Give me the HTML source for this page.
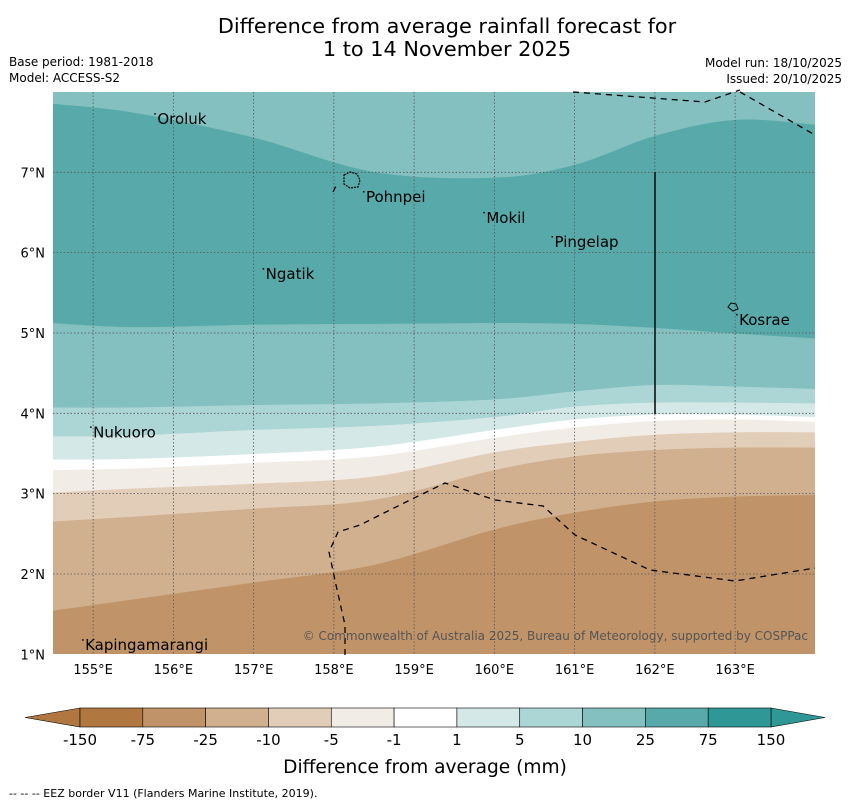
<!DOCTYPE html>
<html><head><meta charset="utf-8"><style>
body{margin:0;background:#fff;font-family:"Liberation Sans","DejaVu Sans",sans-serif;}
svg{display:block}
</style></head><body>
<svg id="chart" width="850" height="804" xmlns="http://www.w3.org/2000/svg" font-family="'DejaVu Sans','Liberation Sans',sans-serif">
<text x="447" y="33" text-anchor="middle" font-size="20.8">Difference from average rainfall forecast for</text>
<text x="447" y="56" text-anchor="middle" font-size="20.8">1 to 14 November 2025</text>
<text x="9" y="66" font-size="12">Base period: 1981-2018</text>
<text x="9" y="82" font-size="12">Model: ACCESS-S2</text>
<text x="842" y="67" font-size="12" text-anchor="end">Model run: 18/10/2025</text>
<text x="842" y="83" font-size="12" text-anchor="end">Issued: 20/10/2025</text>
<defs><clipPath id="mapclip"><rect x="53" y="92" width="762" height="562"/></clipPath></defs>
<g id="map" clip-path="url(#mapclip)"></g>
<g id="over"></g>
<g id="cbar"></g>
<text x="425" y="773" text-anchor="middle" font-size="18.6">Difference from average (mm)</text>
<text x="9" y="797" font-size="11">--  --  -- EEZ border V11 (Flanders Marine Institute, 2019).</text>
</svg>
<script>
const lons=[154.5,155.5,157,158.5,160,161,162,163,164];
const c25hi=[7.85,7.74,7.43,7.00,6.93,7.09,7.45,7.65,7.59];
const c25lo=[5.12,5.07,5.10,5.11,5.12,5.11,5.06,4.99,4.93];
const c10=[4.07,4.07,4.10,4.12,4.17,4.27,4.35,4.33,4.30];
const c5=[3.71,3.72,3.79,3.84,3.95,4.08,4.13,4.13,4.12];
const c1=[3.42,3.43,3.49,3.58,3.79,3.92,3.98,3.98,3.95];
const cm1=[3.29,3.31,3.38,3.46,3.69,3.82,3.90,3.92,3.89];
const cm5=[3.01,3.06,3.12,3.21,3.51,3.64,3.73,3.76,3.76];
const cm10=[2.65,2.71,2.81,2.92,3.29,3.46,3.54,3.57,3.57];
const cm25=[1.54,1.68,1.89,2.11,2.55,2.76,2.90,2.96,2.98];
const levels=["-150","-75","-25","-10","-5","-1","1","5","10","25","75","150"];
const binColors=["#b07840","#c09468","#d1b090","#e2cdb8","#f2ece6","#ffffff","#d5e8e8","#acd5d5","#83c0bf","#58aaaa","#2f9896"];
const xTicks=[155,156,157,158,159,160,161,162,163];
const yTicks=[1,2,3,4,5,6,7];
const places=[["Oroluk",155.75,7.75],["Pohnpei",158.35,6.78],["Mokil",159.85,6.52],["Pingelap",160.7,6.22],["Ngatik",157.1,5.82],["Kosrae",163.0,5.25],["Nukuoro",154.95,3.85],["Kapingamarangi",154.85,1.2]];
const NS="http://www.w3.org/2000/svg";
const X=lon=>53+(lon-154.5)*80.25;
const Y=lat=>92+(8-lat)*80.33;
function mk(tag,attrs,parent){const e=document.createElementNS(NS,tag);for(const k in attrs)e.setAttribute(k,attrs[k]);parent.appendChild(e);return e;}
const map=document.getElementById('map');
const over=document.getElementById('over');
let r=mk('rect',{x:53,y:92,width:762,height:562,fill:binColors[8]},map);


function smoothPath(arr){
  const pts=lons.map((lo,i)=>[X(lo),Y(arr[i])]);
  let d='M'+pts[0][0]+','+pts[0][1];
  for(let i=0;i<pts.length-1;i++){
    const p0=pts[Math.max(0,i-1)],p1=pts[i],p2=pts[i+1],p3=pts[Math.min(pts.length-1,i+2)];
    const c1x=p1[0]+(p2[0]-p0[0])/6,c1y=p1[1]+(p2[1]-p0[1])/6;
    const c2x=p2[0]-(p3[0]-p1[0])/6,c2y=p2[1]-(p3[1]-p1[1])/6;
    d+=` C${c1x},${c1y} ${c2x},${c2y} ${p2[0]},${p2[1]}`;
  }
  return d;
}
const layers=[[c25hi,9,'band-25-75'],[c25lo,8,'band-10-25'],[c10,7,'band-5-10'],[c5,6,'band-1-5'],[c1,5,'band-neutral'],[cm1,4,'band-minus1-5'],[cm5,3,'band-minus5-10'],[cm10,2,'band-minus10-25'],[cm25,1,'band-minus25-75']];
layers.forEach(([arr,ci,nm])=>{
  let d=smoothPath(arr);
  d+=' L'+X(lons[lons.length-1])+',660 L'+X(lons[0])+',660 Z';
  const p=mk('path',{d:d,fill:binColors[ci],stroke:binColors[ci],'stroke-width':0.5},map);
  
  
});
xTicks.forEach(t=>{
  const l=mk('line',{x1:X(t),x2:X(t),y1:92,y2:654,stroke:'#555','stroke-width':0.8,'stroke-dasharray':'1.5,2'},over);
  
  
  const tx=mk('text',{x:X(t),y:674,'text-anchor':'middle','font-size':13},over);tx.textContent=t+'°E';
  
  
});
yTicks.forEach(t=>{
  if(t>1){const l=mk('line',{x1:53,x2:815,y1:Y(t),y2:Y(t),stroke:'#555','stroke-width':0.8,'stroke-dasharray':'1.5,2'},over);
  
  }
  const tx=mk('text',{x:45,y:Y(t)+5,'text-anchor':'end','font-size':13},over);tx.textContent=t+'°N';
  
  
});
const eez=[["M573,92 L705,102 L740,90 M740,92 L815,135",'eez-border-north'],["M345,655 L345,625 L336,585 L329,552 L338,532 L360,525 L410,500 L445,483 L495,500 L543,506 L575,535 L650,570 L735,581 L815,568",'eez-border-south'],["M333,192 L336,186",'eez-border-fragment']];
eez.forEach(([d,nm])=>{const p=mk('path',{d:d,fill:'none',stroke:'#000','stroke-width':1.3,'stroke-dasharray':'6,5'},over);

});
let vl=mk('line',{x1:655,x2:655,y1:172,y2:414,stroke:'#111','stroke-width':1.6},over);


let pi=mk('path',{d:'M344,175 L350,172 L357,174 L360,180 L358,187 L350,188 L344,184 Z',fill:'none',stroke:'#000','stroke-width':1.2,'stroke-dasharray':'2,1'},over);


let ki=mk('path',{d:'M728,307 L731,303 L736,304 L738,309 L733,311 Z',fill:'none',stroke:'#000','stroke-width':1},over);


places.forEach(([n,lo,la])=>{
  const t=mk('text',{x:X(lo)+4,y:Y(la)+12,'font-size':15},over);t.textContent=n;
  
  
  const m=mk('rect',{x:X(lo)+1,y:Y(la)+1,width:1.5,height:1.5,fill:'#000'},over);
  
  
});
let cp=mk('text',{x:808,y:640,'text-anchor':'end','font-size':12,fill:'#555'},over);
cp.textContent='© Commonwealth of Australia 2025, Bureau of Meteorology, supported by COSPPac';


const cb=document.getElementById('cbar');
const cx0=80,cw=(771-80)/11,cy0=708,ch=19;
let tl=mk('polygon',{points:`${cx0},${cy0} 25,${cy0+ch/2} ${cx0},${cy0+ch}`,fill:binColors[0],stroke:'#000','stroke-width':0.6},cb);


let tr=mk('polygon',{points:`771,${cy0} 825,${cy0+ch/2} 771,${cy0+ch}`,fill:binColors[10],stroke:'#000','stroke-width':0.6},cb);


binColors.forEach((c,i)=>{
  const b=mk('rect',{x:cx0+i*cw,y:cy0,width:cw,height:ch,fill:c,stroke:'#000','stroke-width':0.6},cb);
  
  
});
levels.forEach((l,i)=>{
  const t=mk('text',{x:cx0+i*cw,y:745,'text-anchor':'middle','font-size':15},cb);t.textContent=l;
  
  
});
</script>
</body></html>
